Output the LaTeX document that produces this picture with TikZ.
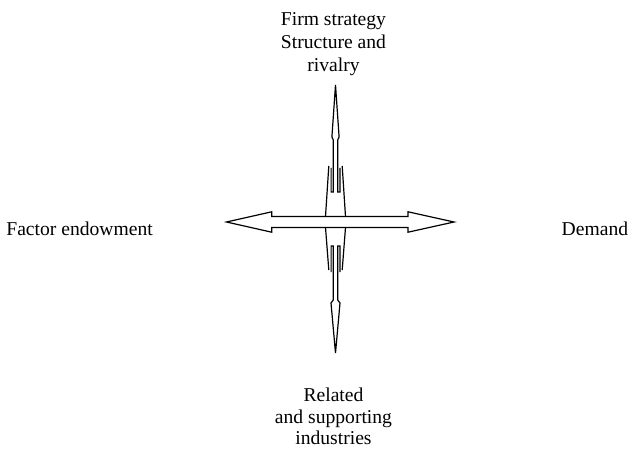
\documentclass[tikz,border=0pt]{standalone}
\usepackage{fontspec}
\setmainfont{Liberation Serif}

\begin{document}
\begin{tikzpicture}[
		x=1pt, y=1pt,
		force/.style={font=\fontsize{19.6}{23.2}\selectfont, inner sep=0pt, align=center},
		tight force/.style={force, font=\fontsize{19.6}{21.5}\selectfont},
		outline/.style={black, line width=1.2pt, line join=miter}
		]
		\useasboundingbox (0,0) rectangle (632,448);
		\coordinate (c) at (335.5,226);
		
		% ---------------------------------------------------------
		% The four determinants
		% ---------------------------------------------------------
		\node[force, anchor=north] (firm) at (333.5,435.7) {Firm strategy\\Structure and\\rivalry};
		\node[force, anchor=base west] (factor) at (6.2,213) {Factor endowment};
		\node[force, anchor=base east] (demand) at (628.3,213) {Demand};
		\node[tight force, anchor=north] (related) at (333.5,60) {Related\\and supporting\\industries};
		
		% ---------------------------------------------------------
		% Horizontal double arrow
		% ---------------------------------------------------------
		\begin{scope}[shift={(c)}]
			\draw[outline] (-109,0) -- (-63.8,10.2) -- (-63.8,5.5) -- (72.5,5.5) -- (72.5,10.2)
			-- (118.5,0) -- (72.5,-10.2) -- (72.5,-5.5) -- (-63.8,-5.5) -- (-63.8,-10.2) -- cycle;
			
			% ---------------------------------------------------------
			% Vertical double arrow with fletching
			% ---------------------------------------------------------
			% upper half
			\draw[outline] (-4.4,54) -- (-4.4,30) -- (-2.2,30) -- (-2.2,82) -- (-3.6,85) -- (0,137)
			-- (3.6,85) -- (2.2,82) -- (2.2,30) -- (4.4,30) -- (4.4,54);
			\foreach \s in {-1,1} {
				\draw[outline] (\s*6.7,56) -- (\s*10,5.5);
				\draw[outline] (\s*10,-5.5) -- (\s*6.7,-48);
			}
			% lower half
			\draw[outline] (-4.4,-50) -- (-4.4,-24) -- (-2.2,-24) -- (-2.2,-78) -- (-4.5,-81) -- (0,-131)
			-- (4.5,-81) -- (2.2,-78) -- (2.2,-24) -- (4.4,-24) -- (4.4,-50);
		\end{scope}
		
	\end{tikzpicture}
\end{document}
